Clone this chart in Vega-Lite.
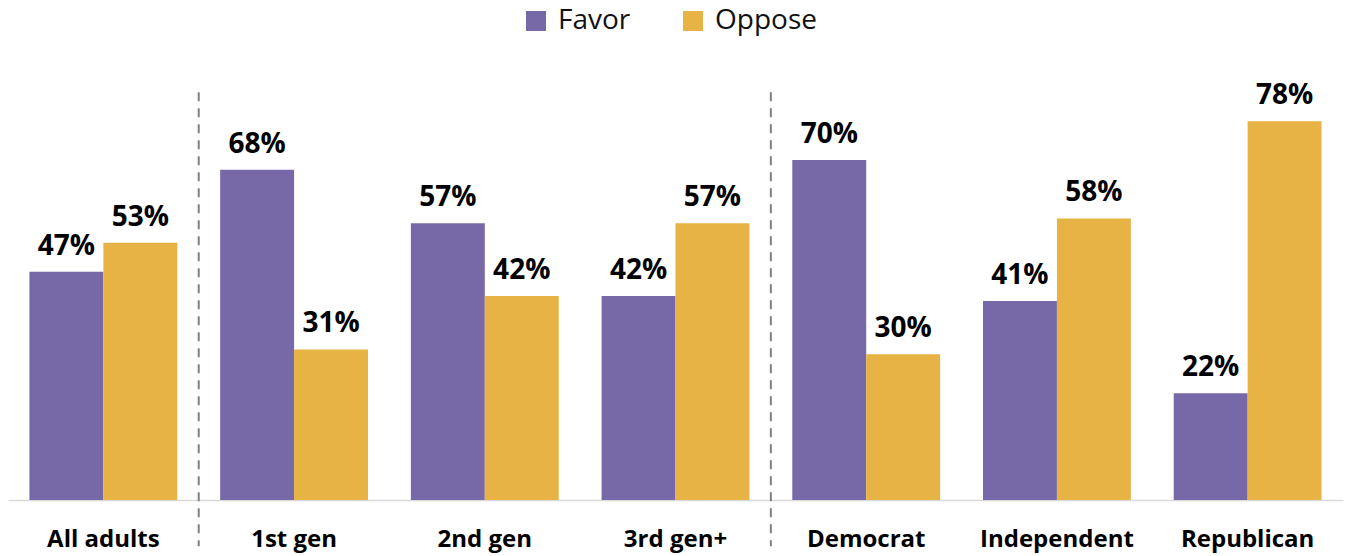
{
  "$schema": "https://vega.github.io/schema/vega-lite/v6.json",
  "autosize": {"type": "none"},
  "width": 1335,
  "height": 437,
  "padding": {"left": 8, "top": 63, "right": 5, "bottom": 56},
  "background": "white",
  "config": {"view": {"stroke": null}, "font": "Open Sans"},
  "datasets": {
    "bars": [
      {"cat": "All adults", "series": "Favor", "value": 47, "label": "47%"},
      {"cat": "All adults", "series": "Oppose", "value": 53, "label": "53%"},
      {"cat": "1st gen", "series": "Favor", "value": 68, "label": "68%"},
      {"cat": "1st gen", "series": "Oppose", "value": 31, "label": "31%"},
      {"cat": "2nd gen", "series": "Favor", "value": 57, "label": "57%"},
      {"cat": "2nd gen", "series": "Oppose", "value": 42, "label": "42%"},
      {"cat": "3rd gen+", "series": "Favor", "value": 42, "label": "42%"},
      {"cat": "3rd gen+", "series": "Oppose", "value": 57, "label": "57%"},
      {"cat": "Democrat", "series": "Favor", "value": 70, "label": "70%"},
      {"cat": "Democrat", "series": "Oppose", "value": 30, "label": "30%"},
      {"cat": "Independent", "series": "Favor", "value": 41, "label": "41%"},
      {"cat": "Independent", "series": "Oppose", "value": 58, "label": "58%"},
      {"cat": "Republican", "series": "Favor", "value": 22, "label": "22%"},
      {"cat": "Republican", "series": "Oppose", "value": 78, "label": "78%"}
    ],
    "dividers": [{"cat": "1st gen"}, {"cat": "Democrat"}]
  },
  "layer": [
    {
      "data": {"name": "bars"},
      "mark": {"type": "bar"},
      "encoding": {
        "x": {
          "field": "cat", "type": "nominal", "sort": null,
          "scale": {"paddingInner": 0, "paddingOuter": 0},
          "axis": {
            "title": null, "labelAngle": 0, "ticks": false, "domainColor": "#d9d9d9", "domainWidth": 1.5,
            "labelFont": "Open Sans", "labelFontWeight": "bold", "labelFontSize": 24, "labelColor": "#000000",
            "labelPadding": 27
          }
        },
        "xOffset": {"field": "series", "type": "nominal", "scale": {"paddingOuter": 0.29, "paddingInner": 0}},
        "y": {"field": "value", "type": "quantitative", "scale": {"domain": [0, 90]}, "axis": null},
        "color": {
          "field": "series", "type": "nominal",
          "scale": {"domain": ["Favor", "Oppose"], "range": ["#7768a8", "#e8b345"]},
          "legend": {
            "title": null, "orient": "none", "direction": "horizontal", "legendX": 514, "legendY": -56,
            "symbolType": "square", "symbolSize": 400, "symbolStrokeWidth": 0, "symbolOpacity": 1,
            "labelFontSize": 28, "labelFont": "Open Sans", "labelColor": "#111111", "labelOffset": 8, "columnPadding": 48
          }
        }
      }
    },
    {
      "data": {"name": "bars"},
      "mark": {"type": "text", "baseline": "bottom", "dy": -11, "fontSize": 28, "fontWeight": "bold", "font": "Open Sans", "color": "#000000"},
      "encoding": {
        "x": {"field": "cat", "type": "nominal", "sort": null},
        "xOffset": {"field": "series", "type": "nominal"},
        "y": {"field": "value", "type": "quantitative"},
        "text": {"field": "label"}
      }
    },
    {
      "data": {"name": "dividers"},
      "mark": {"type": "rule", "color": "#808080", "strokeWidth": 2, "strokeDash": [9, 7]},
      "encoding": {
        "x": {"field": "cat", "type": "nominal", "sort": null, "bandPosition": 0},
        "y": {"datum": 84},
        "y2": {"datum": -9.5}
      }
    }
  ]
}
